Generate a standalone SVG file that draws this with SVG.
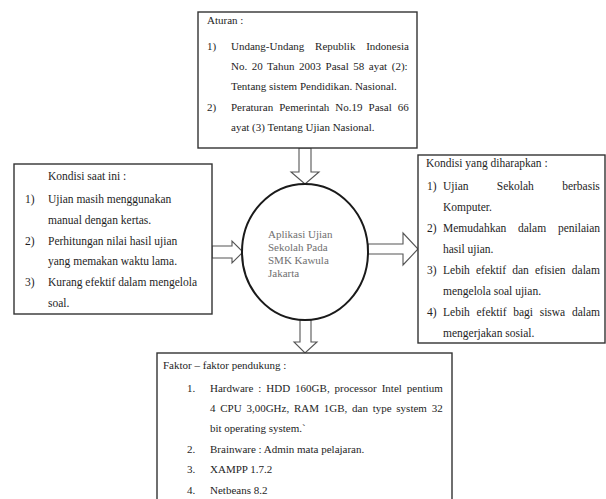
<svg xmlns="http://www.w3.org/2000/svg" width="606" height="499" viewBox="0 0 606 499">
  <style>
    .box { fill: #ffffff; stroke: #333333; stroke-width: 1.4; }
    .t { font-family: "Liberation Serif", "Times New Roman", serif; font-size: 11px; fill: #1e1e1e; }
    .m { font-size: 11.5px; }
    .c { font-family: "Liberation Serif", "Times New Roman", serif; font-size: 11px; fill: #707070; }
    .arrow { fill: #ffffff; stroke: #555555; stroke-width: 1.1; stroke-linejoin: miter; }
  </style>
  <rect width="606" height="499" fill="#ffffff"/>

  <!-- connectors: block arrows between the boxes and the central process -->
  <g id="connectors">
    <path class="arrow" d="M299,148 L311,148 L311,172 L319,172 L305,184 L291,172 L299,172 Z"/>
    <path class="arrow" d="M212,246 L232,246 L232,241 L243,252 L232,263 L232,258 L212,258 Z"/>
    <path class="arrow" d="M368,244 L403,244 L403,233 L418,249 L403,265 L403,254 L368,254 Z"/>
    <path class="arrow" d="M300,320 L311,320 L311,342 L317,342 L305,353 L294,342 L300,342 Z"/>
  </g>

  <g id="aturan">
    <rect class="box" x="198" y="12" width="219" height="136"/>
    <text class="t" x="207" y="24">Aturan :</text>
    <text class="t" x="207" y="50">1)</text>
    <text class="t" x="231" y="50" word-spacing="8">Undang-Undang Republik Indonesia</text>
    <text class="t" x="231" y="70" word-spacing="1.8">No. 20 Tahun 2003 Pasal 58 ayat (2):</text>
    <text class="t" x="231" y="90">Tentang sistem Pendidikan. Nasional.</text>
    <text class="t" x="207" y="111">2)</text>
    <text class="t" x="231" y="111" word-spacing="3.3">Peraturan Pemerintah No.19 Pasal 66</text>
    <text class="t" x="231" y="131">ayat (3) Tentang Ujian Nasional.</text>
  </g>

  <g id="kondisi-saat-ini">
    <rect class="box" x="14" y="164" width="198" height="150"/>
    <text class="t m" x="48" y="180">Kondisi saat ini :</text>
    <text class="t m" x="25" y="203">1)</text>
    <text class="t m" x="48" y="203">Ujian masih menggunakan</text>
    <text class="t m" x="48" y="224">manual dengan kertas.</text>
    <text class="t m" x="25" y="245">2)</text>
    <text class="t m" x="48" y="245">Perhitungan nilai hasil ujian</text>
    <text class="t m" x="48" y="265">yang memakan waktu lama.</text>
    <text class="t m" x="25" y="286">3)</text>
    <text class="t m" x="48" y="286">Kurang efektif dalam mengelola</text>
    <text class="t m" x="48" y="307">soal.</text>
  </g>

  <g id="proses">
    <ellipse cx="305" cy="252" rx="63" ry="68" fill="#ffffff" stroke="#1a1a1a" stroke-width="2"/>
    <text class="c" x="268" y="238">Aplikasi Ujian</text>
    <text class="c" x="268" y="251">Sekolah Pada</text>
    <text class="c" x="268" y="264">SMK Kawula</text>
    <text class="c" x="268" y="277">Jakarta</text>
  </g>

  <g id="kondisi-diharapkan">
    <rect class="box" x="418" y="155" width="187" height="188"/>
    <text class="t m" x="426" y="167">Kondisi yang diharapkan :</text>
    <text class="t m" x="427" y="190">1)</text>
    <text class="t m" x="443" y="190" word-spacing="25.4">Ujian Sekolah berbasis</text>
    <text class="t m" x="443" y="211">Komputer.</text>
    <text class="t m" x="427" y="232">2)</text>
    <text class="t m" x="443" y="232" word-spacing="8.9">Memudahkan dalam penilaian</text>
    <text class="t m" x="443" y="253">hasil ujian.</text>
    <text class="t m" x="427" y="274">3)</text>
    <text class="t m" x="443" y="274" word-spacing="3.3">Lebih efektif dan efisien dalam</text>
    <text class="t m" x="443" y="295">mengelola soal ujian.</text>
    <text class="t m" x="427" y="316">4)</text>
    <text class="t m" x="443" y="316" word-spacing="3.8">Lebih efektif bagi siswa dalam</text>
    <text class="t m" x="443" y="337">mengerjakan sosial.</text>
  </g>

  <g id="faktor-pendukung">
    <rect class="box" x="157" y="353" width="295" height="150"/>
    <text class="t" x="163" y="369">Faktor – faktor pendukung :</text>
    <text class="t" x="187" y="392">1.</text>
    <text class="t" x="210" y="392" word-spacing="2.2">Hardware : HDD 160GB, processor Intel pentium</text>
    <text class="t" x="210" y="412" word-spacing="2">4 CPU 3,00GHz, RAM 1GB, dan type system 32</text>
    <text class="t" x="210" y="432">bit operating system.`</text>
    <text class="t" x="187" y="453">2.</text>
    <text class="t" x="210" y="453">Brainware : Admin mata pelajaran.</text>
    <text class="t" x="187" y="473">3.</text>
    <text class="t" x="210" y="473">XAMPP 1.7.2</text>
    <text class="t" x="187" y="494">4.</text>
    <text class="t" x="210" y="494">Netbeans 8.2</text>
  </g>
</svg>
